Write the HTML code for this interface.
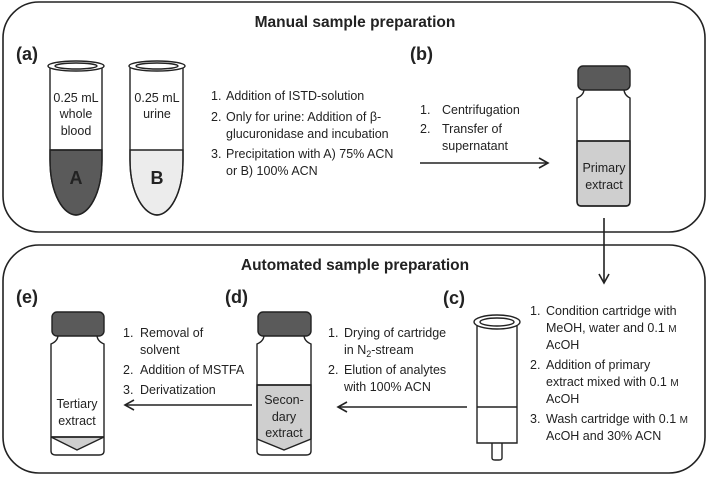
<!DOCTYPE html>
<html><head><meta charset="utf-8"><style>
html,body{margin:0;padding:0;background:#fff}
svg{display:block}
text{font-family:"Liberation Sans",sans-serif;fill:#222}
.s{font-size:12.5px}
.b{font-weight:bold}
</style></head><body>
<svg width="709" height="477" viewBox="0 0 709 477" xmlns="http://www.w3.org/2000/svg">
<defs>
<marker id="ah" markerWidth="12" markerHeight="12" refX="10" refY="6" orient="auto" markerUnits="userSpaceOnUse">
<path d="M1,1 L10,6 L1,11" fill="none" stroke="#222" stroke-width="1.6"/>
</marker>
</defs>
<g fill="none" stroke="#222" stroke-width="1.6">
<rect x="3" y="2" width="702" height="230" rx="36"/>
<rect x="3" y="245" width="702" height="228" rx="36"/>
</g>
<text x="355" y="27" text-anchor="middle" class="b" font-size="15.5">Manual sample preparation</text>
<text x="355" y="270" text-anchor="middle" class="b" font-size="15.5">Automated sample preparation</text>
<text x="16" y="60" class="b" font-size="18">(a)</text>
<text x="410" y="60" class="b" font-size="18">(b)</text>
<text x="443" y="304" class="b" font-size="18">(c)</text>
<text x="225" y="303" class="b" font-size="18">(d)</text>
<text x="16" y="303" class="b" font-size="18">(e)</text>

<!-- tube A -->
<g stroke="#222" stroke-width="1.4">
<path d="M50,150 L102,150 L102,160 C102,195 88,215 76,215 C64,215 50,195 50,160 Z" fill="#5a5a5a"/>
<path d="M50,68 L50,160 C50,195 64,215 76,215 C88,215 102,195 102,160 L102,68" fill="none"/>
<line x1="50" y1="150" x2="102" y2="150"/>
<ellipse cx="76" cy="66" rx="28" ry="5" fill="#fff"/>
<ellipse cx="76" cy="66" rx="21" ry="3" fill="none"/>
<path d="M130,150 L183,150 L183,160 C183,195 169,215 157,215 C145,215 130,195 130,160 Z" fill="#ececec"/>
<path d="M130,68 L130,160 C130,195 145,215 157,215 C169,215 183,195 183,160 L183,68" fill="none"/>
<ellipse cx="157" cy="66" rx="28" ry="5" fill="#fff"/>
<ellipse cx="157" cy="66" rx="21" ry="3" fill="none"/>
</g>
<g text-anchor="middle" class="s">
<text x="76" y="102">0.25 mL</text><text x="76" y="118">whole</text><text x="76" y="135">blood</text>
<text x="157" y="102">0.25 mL</text><text x="157" y="118">urine</text>
</g>
<text x="76" y="184" text-anchor="middle" class="b" font-size="18">A</text>
<text x="157" y="184" text-anchor="middle" class="b" font-size="18">B</text>

<g class="s">
<text x="211" y="100">1.</text><text x="226" y="100">Addition of ISTD-solution</text>
<text x="211" y="121">2.</text><text x="226" y="121">Only for urine: Addition of β-</text>
<text x="226" y="138">glucuronidase and incubation</text>
<text x="211" y="158">3.</text><text x="226" y="158">Precipitation with A) 75% ACN</text>
<text x="226" y="175">or B) 100% ACN</text>
<text x="420" y="114">1.</text><text x="442" y="114">Centrifugation</text>
<text x="420" y="133">2.</text><text x="442" y="133">Transfer of</text>
<text x="442" y="150">supernatant</text>
</g>
<line x1="420" y1="163" x2="548" y2="163" stroke="#222" stroke-width="1.6" marker-end="url(#ah)"/>

<!-- primary vial -->
<g stroke="#222" stroke-width="1.4">
<path d="M577,141 H630 V201 Q630,206 626,206 H581 Q577,206 577,201 Z" fill="#cfcfcf"/>
<path d="M584,89 Q584,95 577,98 V201 Q577,206 581,206 H626 Q630,206 630,201 V98 Q624,95 624,89" fill="none"/>
<line x1="577" y1="141" x2="630" y2="141"/>
<rect x="578" y="66" width="52" height="24" rx="5" fill="#5a5a5a"/>
</g>
<g text-anchor="middle" class="s"><text x="604" y="172">Primary</text><text x="604" y="189">extract</text></g>
<line x1="604" y1="218" x2="604" y2="283" stroke="#222" stroke-width="1.6" marker-end="url(#ah)"/>

<!-- cartridge -->
<g stroke="#222" stroke-width="1.4" fill="none">
<path d="M477,325 V443 H517 V325"/>
<line x1="477" y1="407" x2="517" y2="407"/>
<path d="M492,443 V458 Q492,460 495,460 H499 Q502,460 502,458 V443"/>
<ellipse cx="497" cy="322" rx="23" ry="7" fill="#fff"/>
<ellipse cx="497" cy="322" rx="17" ry="4"/>
</g>
<g class="s">
<text x="530" y="315">1.</text><text x="546" y="315">Condition cartridge with</text>
<text x="546" y="332">MeOH, water and 0.1 <tspan font-size="10">M</tspan></text>
<text x="546" y="349">AcOH</text>
<text x="530" y="369">2.</text><text x="546" y="369">Addition of primary</text>
<text x="546" y="386">extract mixed with 0.1 <tspan font-size="10">M</tspan></text>
<text x="546" y="403">AcOH</text>
<text x="530" y="423">3.</text><text x="546" y="423">Wash cartridge with 0.1 <tspan font-size="10">M</tspan></text>
<text x="546" y="440">AcOH and 30% ACN</text>
</g>
<line x1="467" y1="407" x2="338" y2="407" stroke="#222" stroke-width="1.6" marker-end="url(#ah)"/>
<g class="s">
<text x="328" y="337">1.</text><text x="344" y="337">Drying of cartridge</text>
<text x="344" y="354">in N<tspan font-size="9" dy="3">2</tspan><tspan dy="-3">-stream</tspan></text>
<text x="328" y="374">2.</text><text x="344" y="374">Elution of analytes</text>
<text x="344" y="391">with 100% ACN</text>
</g>

<!-- vial d -->
<g stroke="#222" stroke-width="1.4">
<path d="M257,385 H311 V439 L284,450 L257,439 Z" fill="#cfcfcf"/>
<path d="M264,335 Q264,341 257,344 V451 Q257,455 262,455 H306 Q311,455 311,451 V344 Q304,341 304,335" fill="none"/>
<line x1="257" y1="385" x2="311" y2="385"/>
<rect x="258" y="312" width="53" height="24" rx="5" fill="#5a5a5a"/>
</g>
<g text-anchor="middle" class="s"><text x="284" y="404">Secon-</text><text x="284" y="421">dary</text><text x="284" y="437">extract</text></g>
<line x1="252" y1="405" x2="125" y2="405" stroke="#222" stroke-width="1.6" marker-end="url(#ah)"/>
<g class="s">
<text x="123" y="337">1.</text><text x="140" y="337">Removal of</text>
<text x="140" y="354">solvent</text>
<text x="123" y="374">2.</text><text x="140" y="374">Addition of MSTFA</text>
<text x="123" y="394">3.</text><text x="140" y="394">Derivatization</text>
</g>

<!-- vial e -->
<g stroke="#222" stroke-width="1.4">
<path d="M51,437 H104 L77,450 Z" fill="#cfcfcf"/>
<path d="M58,335 Q58,341 51,344 V451 Q51,455 56,455 H99 Q104,455 104,451 V344 Q97,341 97,335" fill="none"/>
<line x1="51" y1="437" x2="104" y2="437"/>
<rect x="52" y="312" width="52" height="24" rx="5" fill="#5a5a5a"/>
</g>
<g text-anchor="middle" class="s"><text x="77" y="408">Tertiary</text><text x="77" y="425">extract</text></g>
</svg>
</body></html>
